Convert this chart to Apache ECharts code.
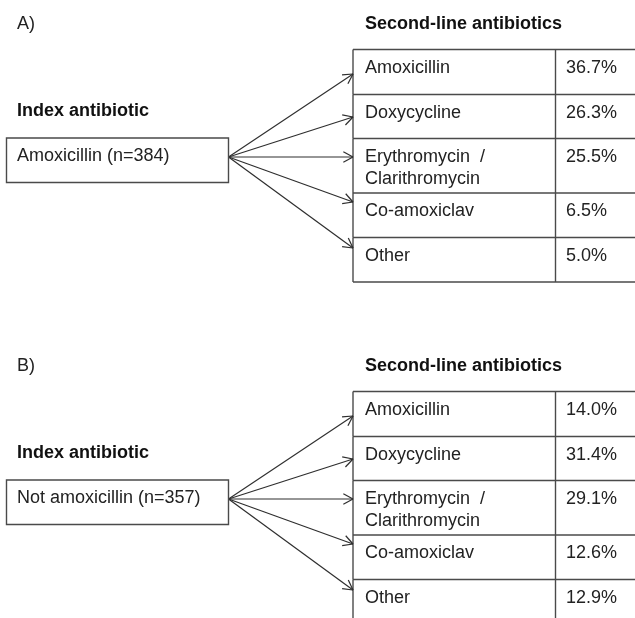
<!DOCTYPE html>
<html>
<head>
<meta charset="utf-8">
<script src="https://cdn.jsdelivr.net/npm/echarts@6/dist/echarts.min.js"></script>
<style>
  html, body { margin: 0; padding: 0; background: #fff; }
  #chart { width: 635px; height: 618px; }
</style>
</head>
<body>
<div id="chart"></div>
<script>
// --- data ---
const panelLabels = ['A)', 'B)']
const indexLabels = ['Amoxicillin (n=384)', 'Not amoxicillin (n=357)']
const indexTitle = 'Index antibiotic'
const tableTitle = 'Second-line antibiotics'
const secondLine = ['Amoxicillin', 'Doxycycline', 'Erythromycin  /\nClarithromycin', 'Co-amoxiclav', 'Other']
const pctA = [36.7, 26.3, 25.5, 6.5, 5.0]
const pctB = [14.0, 31.4, 29.1, 12.6, 12.9]

// --- layout (units of the hidden axes, 1 unit = 1px) ---
const W = 635, H = 618
const panelTop = [0, 342]
const tableTop = 49.5
const tableLeft = 353
const colDivider = 555.5
const rowH = [45, 44, 54.5, 44.5, 44.5]
const arrowDy = [-83, -40, 0, 45, 91]
const box = { x1: 6.5, x2: 228.5, y1: 138, y2: 182.5, originY: 157 }

const FONT = '"Liberation Sans", Arial, sans-serif'
const TXT = '#222'
const LINE = '#4a4a4a'
const ARROW = '#2e2e2e'

const rowData = []
pctA.forEach((v, i) => rowData.push([0, i, v]))
pctB.forEach((v, i) => rowData.push([1, i, v]))

const rowTopOf = (p, i) => {
  let y = panelTop[p] + tableTop
  for (let k = 0; k < i; k++) y += rowH[k]
  return y
}

const text = (pt, str, opts) => ({
  type: 'text',
  style: Object.assign({
    x: pt[0], y: pt[1], text: str, fill: TXT,
    fontSize: 18, fontFamily: FONT, fontWeight: 'normal',
    align: 'left', verticalAlign: 'middle'
  }, opts || {})
})

const seg = (a, b, stroke, w) => ({
  type: 'line',
  shape: { x1: a[0], y1: a[1], x2: b[0], y2: b[1] },
  style: { stroke: stroke, lineWidth: w }
})

const renderRow = (params, api) => {
  const p = api.value(0)
  const i = api.value(1)
  const v = api.value(2)
  const c = (x, y) => api.coord([x, y])
  const top = rowTopOf(p, i)
  const bottom = top + rowH[i]
  const kids = []

  // table borders
  kids.push(seg(c(tableLeft, top), c(W, top), LINE, 1.4))
  if (i === rowH.length - 1) kids.push(seg(c(tableLeft, bottom), c(W, bottom), LINE, 1.4))
  kids.push(seg(c(tableLeft, top), c(tableLeft, bottom), LINE, 1.4))
  kids.push(seg(c(colDivider, top), c(colDivider, bottom), LINE, 1.4))

  // names (may wrap) and percentage
  secondLine[i].split('\n').forEach((ln, k) => {
    kids.push(text(c(365, top + 18.5 + k * 21.7), ln))
  })
  kids.push(text(c(566, top + 18.5), v.toFixed(1) + '%'))

  // arrow from index box to row
  const o = c(box.x2, panelTop[p] + box.originY)
  const t = c(tableLeft, panelTop[p] + box.originY + arrowDy[i])
  kids.push(seg(o, t, ARROW, 1.2))
  const ang = Math.atan2(t[1] - o[1], t[0] - o[0])
  const len = 11, spread = 0.5
  ;[ang + Math.PI - spread, ang + Math.PI + spread].forEach(a => {
    kids.push(seg(t, [t[0] + len * Math.cos(a), t[1] + len * Math.sin(a)], ARROW, 1.2))
  })
  return { type: 'group', children: kids }
}

const renderPanel = (params, api) => {
  const p = api.value(0)
  const c = (x, y) => api.coord([x, y])
  const y0 = panelTop[p]
  const tl = c(box.x1, y0 + box.y1)
  const br = c(box.x2, y0 + box.y2)
  return {
    type: 'group',
    children: [
      text(c(17, y0 + 24), panelLabels[p]),
      text(c(365, y0 + 24), tableTitle, { fontWeight: 'bold', fill: '#111' }),
      text(c(17, y0 + 111.5), indexTitle, { fontWeight: 'bold', fill: '#111' }),
      {
        type: 'rect',
        shape: { x: tl[0], y: tl[1], width: br[0] - tl[0], height: br[1] - tl[1] },
        style: { fill: '#fff', stroke: LINE, lineWidth: 1.4 }
      },
      text(c(17, y0 + 156.5), indexLabels[p])
    ]
  }
}

const chart = echarts.init(document.getElementById('chart'))
chart.setOption({
  animation: false,
  backgroundColor: '#fff',
  grid: { left: 0, right: 0, top: 0, bottom: 0 },
  xAxis: { type: 'value', min: 0, max: W, show: false },
  yAxis: { type: 'value', min: 0, max: H, inverse: true, show: false },
  series: [
    { type: 'custom', clip: false, data: rowData, renderItem: renderRow, silent: true },
    { type: 'custom', clip: false, data: [[0, 0], [1, 0]], renderItem: renderPanel, silent: true }
  ]
})
window.addEventListener('resize', () => chart.resize())
</script>
</body>
</html>
